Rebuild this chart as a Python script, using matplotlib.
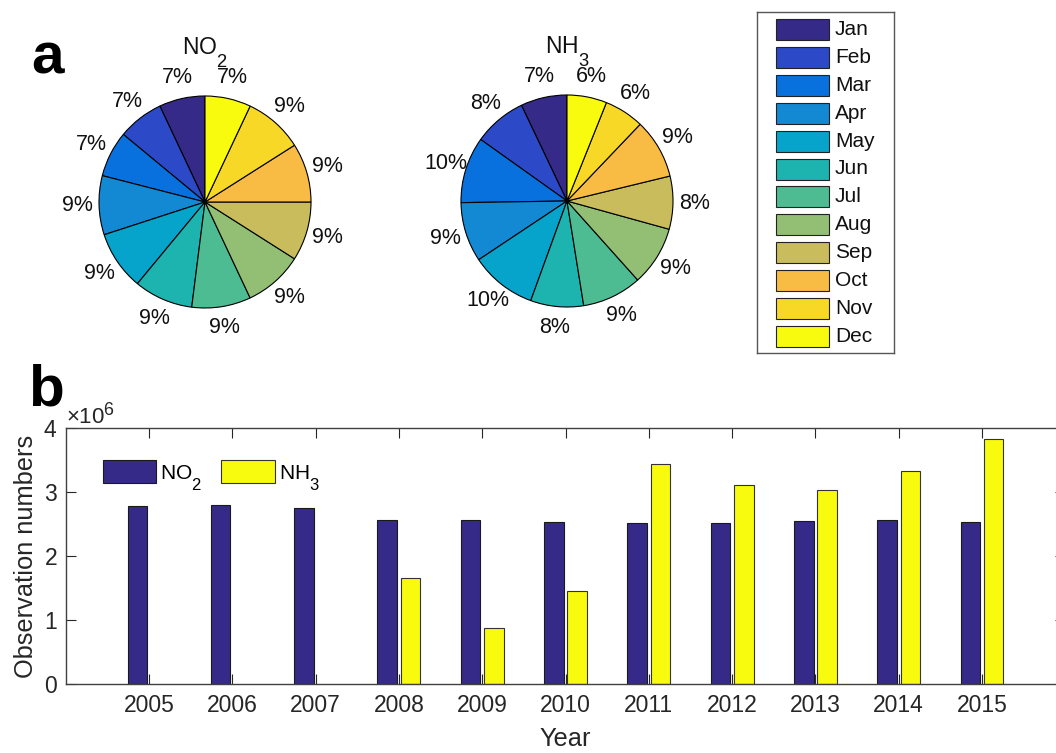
import matplotlib
matplotlib.use("Agg")
import matplotlib.pyplot as plt
import matplotlib._mathtext as _mt
from matplotlib.patches import Rectangle
from matplotlib.ticker import ScalarFormatter
import numpy as np

plt.rcParams['font.family'] = ['Liberation Sans', 'DejaVu Sans']
plt.rcParams['mathtext.fontset'] = 'custom'
plt.rcParams['mathtext.rm'] = 'Liberation Sans'
plt.rcParams['mathtext.it'] = 'Liberation Sans:italic'
plt.rcParams['mathtext.bf'] = 'Liberation Sans:bold'
# larger, lower chemical-formula subscripts
_mt.SHRINK_FACTOR = 0.8
_mt.FontConstantsBase.sub1 = 1.0

# ---- data ----
months = ['Jan', 'Feb', 'Mar', 'Apr', 'May', 'Jun',
          'Jul', 'Aug', 'Sep', 'Oct', 'Nov', 'Dec']
no2_month_pct = [7, 7, 7, 9, 9, 9, 9, 9, 9, 9, 9, 7]
nh3_month_pct = [7, 8, 10, 9, 10, 8, 9, 9, 8, 9, 6, 6]

years = [2005, 2006, 2007, 2008, 2009, 2010, 2011, 2012, 2013, 2014, 2015]
no2_obs = [2.79e6, 2.80e6, 2.76e6, 2.56e6, 2.56e6, 2.53e6,
           2.52e6, 2.52e6, 2.55e6, 2.57e6, 2.54e6]
nh3_obs = [np.nan, np.nan, np.nan, 1.66e6, 0.88e6, 1.46e6,
           3.44e6, 3.12e6, 3.03e6, 3.33e6, 3.84e6]

# parula-style month colours
month_colors = [
    (0.2081, 0.1663, 0.5292), (0.1707, 0.2919, 0.7792),
    (0.0329, 0.4430, 0.8720), (0.0749, 0.5375, 0.8263),
    (0.0231, 0.6418, 0.7913), (0.1133, 0.7015, 0.6859),
    (0.3022, 0.7376, 0.5712), (0.5709, 0.7485, 0.4494),
    (0.7858, 0.7356, 0.3633), (0.9739, 0.7314, 0.2666),
    (0.9697, 0.8481, 0.1475), (0.9763, 0.9831, 0.0538),
]
c_no2 = (0.2081, 0.1663, 0.5292)
c_nh3 = (0.9763, 0.9831, 0.0538)
axis_color = '#262626'

W, H = 1056, 753
fig = plt.figure(figsize=(W / 100, H / 100), dpi=100)


def px_axes(left, top, width, height):
    return fig.add_axes([left / W, 1 - (top + height) / H, width / W, height / H])


def draw_pie(cx, cy, r, values, title):
    span = 1.5
    half = r * span
    ax = px_axes(cx - half, cy - half, 2 * half, 2 * half)
    ax.pie(values, colors=month_colors, startangle=90, counterclock=True,
           wedgeprops=dict(edgecolor='black', linewidth=0.8),
           autopct=lambda p: f'{p:.0f}%', pctdistance=1.2,
           textprops=dict(fontsize=15.5, color='#111111'))
    ax.set_xlim(-span, span)
    ax.set_ylim(-span, span)
    ax.set_axis_off()
    ax.text(0, 1.40, title, ha='center', va='baseline', fontsize=16.5,
            color='#111111')
    return ax


draw_pie(205, 202, 106, no2_month_pct, 'NO$_2$')
draw_pie(567, 201, 106, nh3_month_pct, 'NH$_3$')

# month legend box
lax = px_axes(757, 12, 137, 341)
lax.set_xlim(0, 137)
lax.set_ylim(341, 0)
lax.set_xticks([])
lax.set_yticks([])
for s in lax.spines.values():
    s.set_color('#555555')
    s.set_linewidth(1.0)
pitch = 27.9
for i, (m, c) in enumerate(zip(months, month_colors)):
    y0 = 7 + i * pitch
    lax.add_patch(Rectangle((19, y0), 53, 21, facecolor=c,
                            edgecolor='#222222', linewidth=0.8))
    lax.text(78, y0 + 10.5, m, ha='left', va='center', fontsize=15,
             color='#111111')

# panel letters
fig.text(31 / W, 1 - 73 / H, 'a', fontsize=42, fontweight='bold',
         va='baseline', ha='left')
fig.text(28 / W, 1 - 405 / H, 'b', fontsize=42, fontweight='bold',
         va='baseline', ha='left')

# bar chart
axb = px_axes(65.7, 428.3, 999.6, 256)
x = np.array(years, dtype=float)
axb.bar(x - 0.14, no2_obs, width=0.235, color=c_no2, edgecolor='#1a1a1a',
        linewidth=0.8, label='NO$_2$')
axb.bar(x + 0.14, nh3_obs, width=0.235, color=c_nh3, edgecolor='#333333',
        linewidth=0.8, label='NH$_3$')
axb.set_xlim(2004, 2016)
axb.set_ylim(0, 4e6)
axb.set_xticks(years)
axb.set_xticklabels([str(y) for y in years])
axb.set_yticks([0, 1e6, 2e6, 3e6, 4e6])
fmt = ScalarFormatter(useMathText=True)
fmt.set_powerlimits((-3, 3))
axb.yaxis.set_major_formatter(fmt)
axb.yaxis.get_offset_text().set_fontsize(16)
axb.yaxis.get_offset_text().set_color(axis_color)
axb.tick_params(axis='both', direction='in', length=7.2, width=0.8,
                colors=axis_color, labelsize=16.5, top=True, right=True)
axb.tick_params(axis='x', pad=7)
axb.tick_params(axis='y', pad=6)
for s in axb.spines.values():
    s.set_color('#404040')
    s.set_linewidth(1.0)
axb.set_xlabel('Year', fontsize=18.3, color=axis_color, labelpad=7.5)
axb.set_ylabel('Observation numbers', fontsize=18.3, color=axis_color,
               labelpad=4)
axb.legend(loc='upper left', bbox_to_anchor=(103 / W, 1 - 460 / H),
           bbox_transform=fig.transFigure, ncol=2, frameon=False,
           fontsize=15, handlelength=2.56, handleheight=1.35,
           handletextpad=0.2, columnspacing=0.9, borderpad=0,
           borderaxespad=0)

fig.savefig('out.png', dpi=100)
